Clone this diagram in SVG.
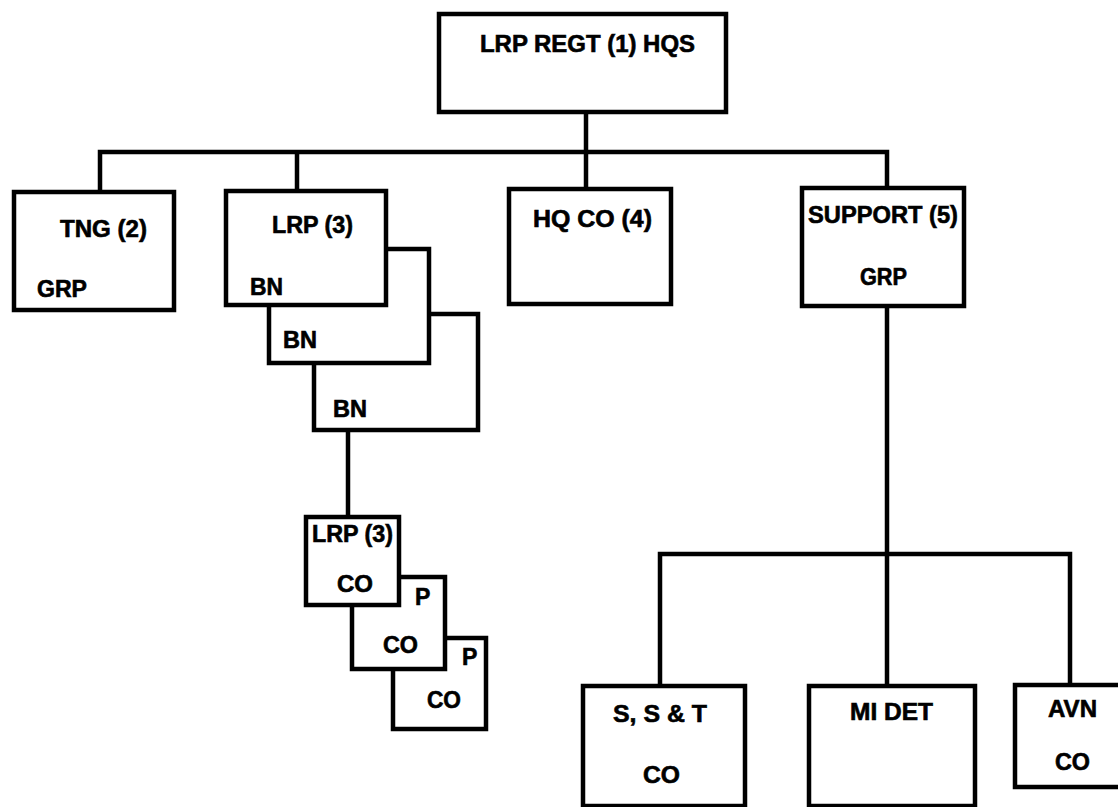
<svg xmlns="http://www.w3.org/2000/svg" width="1118" height="807" viewBox="0 0 1118 807">
<style>
.box{fill:#fff;stroke:#000;stroke-width:4.5;stroke-linejoin:miter}
.ln{fill:none;stroke:#000;stroke-width:4.5;stroke-linejoin:miter}
text{font-family:"Liberation Sans",Arial,Helvetica,sans-serif;font-weight:bold;font-size:23px;fill:#000;stroke:#000;stroke-width:0.6}
</style>
<rect x="0" y="0" width="1118" height="807" fill="#fff"/>
<g id="connectors">
<path class="ln" d="M586,112 V189"/>
<path class="ln" d="M100,192 V152 H887 V188"/>
<path class="ln" d="M297,152 V191"/>
<path class="ln" d="M887,306 V686"/>
<path class="ln" d="M660,686 V554 H1070 V685"/>
<path class="ln" d="M348,430 V517"/>
</g>
<g id="regt-hqs">
<rect class="box" x="439" y="14" width="287" height="98"/>
<text x="480" y="52" textLength="215" lengthAdjust="spacingAndGlyphs">LRP REGT (1) HQS</text>
</g>
<g id="tng-grp">
<rect class="box" x="14" y="192" width="160" height="118"/>
<text x="60" y="237" textLength="87" lengthAdjust="spacingAndGlyphs">TNG (2)</text>
<text x="37" y="297" textLength="50" lengthAdjust="spacingAndGlyphs">GRP</text>
</g>
<g id="lrp-bn-3">
<rect class="box" x="314" y="314" width="164" height="116"/>
<text x="333" y="417" textLength="34" lengthAdjust="spacingAndGlyphs">BN</text>
</g>
<g id="lrp-bn-2">
<rect class="box" x="269" y="249" width="160" height="114"/>
<text x="283" y="348" textLength="34" lengthAdjust="spacingAndGlyphs">BN</text>
</g>
<g id="lrp-bn-1">
<rect class="box" x="226" y="191" width="160" height="114"/>
<text x="272" y="233" textLength="81" lengthAdjust="spacingAndGlyphs">LRP (3)</text>
<text x="250" y="295" textLength="33" lengthAdjust="spacingAndGlyphs">BN</text>
</g>
<g id="hq-co">
<rect class="box" x="509" y="189" width="162" height="115"/>
<text x="533" y="227" textLength="119" lengthAdjust="spacingAndGlyphs">HQ CO (4)</text>
</g>
<g id="support-grp">
<rect class="box" x="802" y="188" width="162" height="118"/>
<text x="808" y="223" textLength="150" lengthAdjust="spacingAndGlyphs">SUPPORT (5)</text>
<text x="860" y="285" textLength="47" lengthAdjust="spacingAndGlyphs">GRP</text>
</g>
<g id="lrp-co-3">
<rect class="box" x="393" y="638" width="93" height="91"/>
<text x="462" y="665">P</text>
<text x="427" y="708" textLength="34" lengthAdjust="spacingAndGlyphs">CO</text>
</g>
<g id="lrp-co-2">
<rect class="box" x="352" y="577" width="93" height="92"/>
<text x="415" y="605">P</text>
<text x="383" y="653" textLength="35" lengthAdjust="spacingAndGlyphs">CO</text>
</g>
<g id="lrp-co-1">
<rect class="box" x="306" y="517" width="93" height="88"/>
<text x="312" y="542" textLength="81" lengthAdjust="spacingAndGlyphs">LRP (3)</text>
<text x="337" y="592" textLength="36" lengthAdjust="spacingAndGlyphs">CO</text>
</g>
<g id="sst-co">
<rect class="box" x="583" y="686" width="162" height="120"/>
<text x="613" y="722" textLength="94" lengthAdjust="spacingAndGlyphs">S, S &amp; T</text>
<text x="643" y="783" textLength="37" lengthAdjust="spacingAndGlyphs">CO</text>
</g>
<g id="mi-det">
<rect class="box" x="809" y="686" width="166" height="120"/>
<text x="850" y="720" textLength="83" lengthAdjust="spacingAndGlyphs">MI DET</text>
</g>
<g id="avn-co">
<rect class="box" x="1015" y="685" width="120" height="102"/>
<text x="1048" y="717" textLength="49" lengthAdjust="spacingAndGlyphs">AVN</text>
<text x="1055" y="770" textLength="35" lengthAdjust="spacingAndGlyphs">CO</text>
</g>
</svg>
